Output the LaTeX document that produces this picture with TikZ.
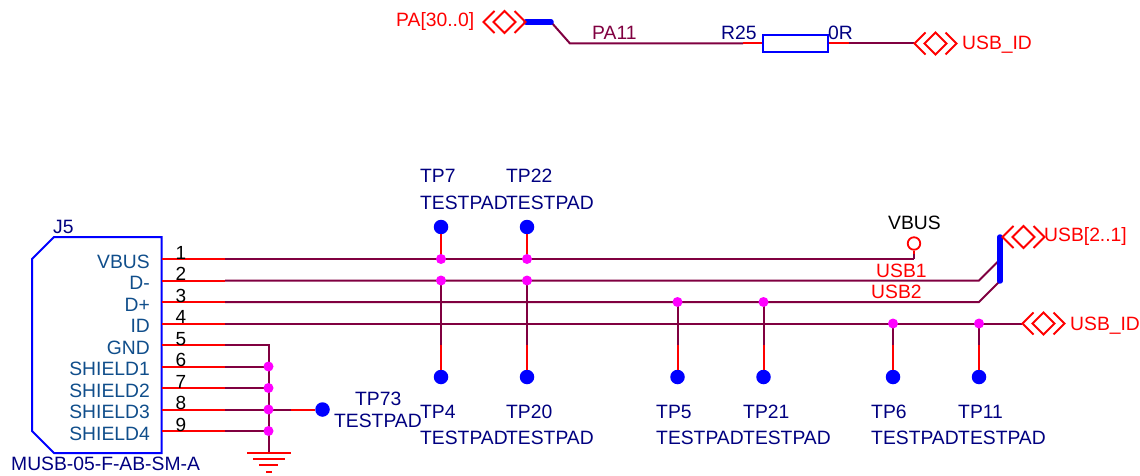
\documentclass[tikz,border=0pt]{standalone}
\usepackage{fontspec}
\setmainfont{Liberation Sans}
\definecolor{wirec}{HTML}{800040}
\definecolor{pinc}{HTML}{FF0000}
\definecolor{symc}{HTML}{0000FF}
\definecolor{junc}{HTML}{FF00FF}
\definecolor{navyc}{HTML}{000080}
\definecolor{pinname}{HTML}{104E8B}
\tikzset{
  wire/.style={draw=wirec,line width=2pt},
  pinl/.style={draw=pinc,line width=2pt},
  buswire/.style={draw=symc,line width=5.5pt,line cap=round},
  sym/.style={draw=symc,line width=2pt},
  gndl/.style={draw=pinc,line width=2pt},
  pad/.style={circle,fill=symc,draw=none,minimum size=14.5pt,inner sep=0pt},
  jun/.style={circle,fill=junc,draw=none,minimum size=10pt,inner sep=0pt},
  ring/.style={circle,draw=pinc,line width=1.8pt,fill=white,minimum size=12.5pt,inner sep=0pt},
  txt/.style={font=\fontsize{19.3}{19}\selectfont,inner sep=0pt,anchor=base west},
  reftxt/.style={txt,text=navyc},
  pinnametxt/.style={txt,text=pinname,anchor=base east},
  pinnum/.style={font=\fontsize{19}{19}\selectfont,inner sep=0pt,anchor=base,text=black},
  nettxt/.style={txt,text=pinc},
  wiretxt/.style={txt,text=wirec},
  port/.pic={
    \draw[pinc,line width=1.8pt] (-10,-11) -- (-21,0) -- (-10,11);
    \draw[pinc,line width=1.8pt] (10,-11) -- (21,0) -- (10,11);
    \draw[pinc,line width=1.8pt] (0,-11) -- (11,0) -- (0,11) -- (-11,0) -- cycle;
  }
}
\begin{document}
\begin{tikzpicture}[x=1pt,y=-1pt]
\useasboundingbox (0,0) rectangle (1140,476);
% --- top circuit
\coordinate (busA) at (526,22);
\coordinate (busB) at (551,22);
\coordinate (kinkA) at (570,43.5);
\node[draw=symc,line width=2pt,minimum width=65pt,minimum height=17pt,inner sep=0pt] (r25) at (795.5,43.5) {};
\coordinate (r25L) at (743,43.5);
\coordinate (r25R) at (849,43.5);
\coordinate (portTopIn) at (914,43.5);
\draw[wire] (busB) -- (kinkA) -- (r25L);
\draw[pinl] (r25L) -- (r25.west);
\draw[pinl] (r25.east) -- (r25R);
\draw[wire] (r25R) -- (portTopIn);
\draw[buswire] (busA) -- (busB);
\pic at (504.5,22) {port};
\pic at (935.5,43.5) {port};
\node[nettxt] (pa) at (396,27) {PA[30..0]};
\node[wiretxt,text=wirec] (pa11) at (592,39.5) {PA11};
\node[reftxt] (r25t) at (721,40) {R25};
\node[reftxt] (r25v) at (828,40) {0R};
\node[nettxt] (uidtop) at (962,50) {USB\_ID};
% --- connector J5
\draw[sym] (32,259) -- (54,237) -- (161.5,237) -- (161.5,453) -- (54,453) -- (32,431) -- cycle;
\node[reftxt] (j5) at (53,233) {J5};
\node[reftxt] (musb) at (11,470) {MUSB-05-F-AB-SM-A};
\foreach \n/\y/\lab in {1/259/VBUS,2/280.5/D-,3/302/D+,4/323.5/ID,5/345/GND,6/366.5/SHIELD1,7/388/SHIELD2,8/409.5/SHIELD3,9/431/SHIELD4}{
  \coordinate (p\n) at (161.5,\y);
  \coordinate (q\n) at (225,\y);
  \draw[pinl] (p\n) -- (q\n);
  \node[pinnametxt] (pn\n) at (150,\y+9) {\lab};
  \node[pinnum] (pt\n) at (181,\y) {\n};
}
% --- coordinates on nets
\coordinate (vb) at (914,259);
\coordinate (k2) at (979,280.5);
\coordinate (k3) at (979,302);
\coordinate (b2) at (1000,259.5);
\coordinate (b3) at (1000,281);
\coordinate (uidin) at (1022,323.5);
\coordinate (bt) at (1000,237);
\coordinate (bb) at (1000,281);
\draw[wire] (q1) -- (vb);
\draw[wire] (q2) -- (k2) -- (b2);
\draw[wire] (q3) -- (k3) -- (b3);
\draw[wire] (q4) -- (uidin);
\draw[buswire] (bt) -- (bb);
\pic at (1023.5,237) {port};
\pic at (1043.5,323.5) {port};
\node[ring] (vbr) at (914,243.5) {};
\draw[wire] (vb) -- (914,254);
\draw[pinl] (914,254) -- (vbr.south);
\node[txt,text=black] (vbt) at (888,229) {VBUS};
\node[nettxt] (u1) at (876,277) {USB1};
\node[nettxt] (u2) at (871,298) {USB2};
\node[nettxt] (u21) at (1044,241.7) {USB[2..1]};
\node[nettxt] (uidb) at (1070,330) {USB\_ID};
% --- top test pads
\foreach \nm/\x/\ref in {a/441/TP7,b/527/TP22}{
  \node[pad] (t\nm) at (\x,227) {};
  \coordinate (tj\nm) at (\x,259);
  \draw[pinl] (t\nm.south) -- (tj\nm);
  \draw[wire] (\x,254) -- (tj\nm);
  \node[reftxt] at (\x-21,182) {\ref};
  \node[reftxt] at (\x-21,209) {TESTPAD};
}
\node[jun] at (441,259) {};
\node[jun] at (527,259) {};
% --- bottom test pads
\foreach \nm/\x/\yj/\ref/\tx in {c/441/280.5/TP4/420,d/527/280.5/TP20/506,e/677.5/302/TP5/656,f/763.5/302/TP21/743,g/893/323.5/TP6/871,h/979/323.5/TP11/958}{
  \node[pad] (t\nm) at (\x,377) {};
  \coordinate (tj\nm) at (\x,\yj);
  \coordinate (tk\nm) at (\x,345);
  \draw[pinl] (tk\nm) -- (t\nm.north);
  \draw[wire] (tj\nm) -- (tk\nm);
  \node[jun] at (tj\nm) {};
  \node[reftxt] at (\tx,418) {\ref};
  \node[reftxt] at (\tx,444) {TESTPAD};
}
% --- shield / ground
\coordinate (gtop) at (268.5,345);
\coordinate (gbot) at (268.5,452.7);
\draw[wire] (q5) -- (gtop) -- (gbot);
\draw[wire] (q6) -- (268.5,366.5);
\draw[wire] (q7) -- (268.5,388);
\draw[wire] (q9) -- (268.5,431);
\coordinate (tp73k) at (291,409.5);
\node[pad] (tp73) at (322.5,409.5) {};
\draw[wire] (q8) -- (tp73k);
\draw[pinl] (tp73k) -- (tp73.west);
\foreach \y in {366.5,388,409.5,431}{\node[jun] at (268.5,\y) {};}
\draw[gndl] (247,452.7) -- (291,452.7);
\draw[gndl] (253,458.7) -- (285,458.7);
\draw[gndl] (259,465) -- (278,465);
\draw[gndl] (266,472) -- (272,472);
\node[reftxt] at (355,405) {TP73};
\node[reftxt] at (334,427) {TESTPAD};
\end{tikzpicture}
\end{document}
